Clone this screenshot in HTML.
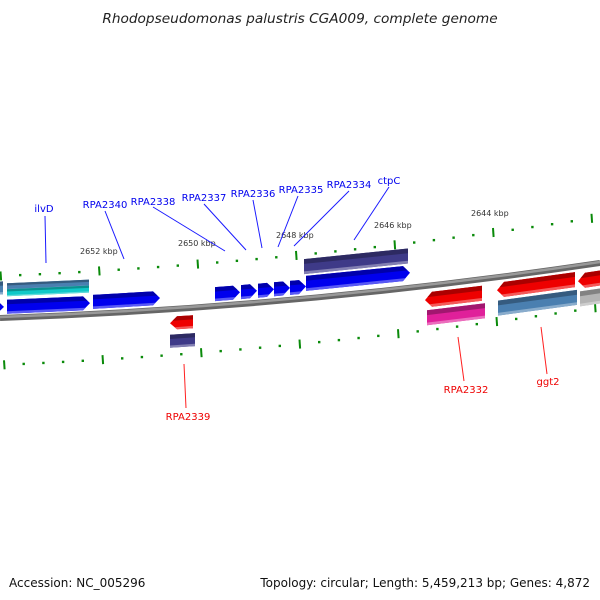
<!DOCTYPE html>
<html><head><meta charset="utf-8"><style>
html,body{margin:0;padding:0;background:#fff;}
svg{display:block;font-family:"DejaVu Sans","Liberation Sans",sans-serif;}
</style></head><body>
<svg id="s" width="600" height="600" viewBox="0 0 600 600" xmlns="http://www.w3.org/2000/svg">
<text x="300" y="23" text-anchor="middle" font-size="13.7" font-style="italic" fill="#222">Rhodopseudomonas palustris CGA009, complete genome</text>
<path d="M0,318 Q300,307.5 600,263" stroke="#666" stroke-width="6" fill="none"/>
<path d="M0,317 Q300,306.5 600,262" stroke="#999" stroke-width="2.5" fill="none"/>
<g id="g"></g>
<g font-size="8" fill="#333">
<text x="80" y="254">2652 kbp</text>
<text x="178" y="246">2650 kbp</text>
<text x="276" y="238">2648 kbp</text>
<text x="374" y="228">2646 kbp</text>
<text x="471" y="216">2644 kbp</text>
</g>
<g stroke="#1a1aff" stroke-width="1">
<line x1="45" y1="216" x2="46" y2="263"/>
<line x1="105" y1="211" x2="124" y2="259"/>
<line x1="153" y1="207" x2="225" y2="251"/>
<line x1="204" y1="204" x2="246" y2="250"/>
<line x1="253" y1="200" x2="262" y2="248"/>
<line x1="298" y1="196" x2="278" y2="247"/>
<line x1="349" y1="191" x2="294" y2="246"/>
<line x1="389" y1="187" x2="354" y2="240"/>
</g>
<g font-size="10" fill="#0000ee" text-anchor="middle">
<text x="44" y="212">ilvD</text>
<text x="105" y="208">RPA2340</text>
<text x="153" y="205">RPA2338</text>
<text x="204" y="201">RPA2337</text>
<text x="253" y="197">RPA2336</text>
<text x="301" y="193">RPA2335</text>
<text x="349" y="188">RPA2334</text>
<text x="389" y="184">ctpC</text>
</g>
<g stroke="#ff2020" stroke-width="1">
<line x1="184" y1="364" x2="186" y2="408"/>
<line x1="458" y1="337" x2="464" y2="381"/>
<line x1="541" y1="327" x2="547" y2="374"/>
</g>
<g font-size="10" fill="#ee0000" text-anchor="middle">
<text x="188" y="420">RPA2339</text>
<text x="466" y="393">RPA2332</text>
<text x="548" y="385">ggt2</text>
</g>
<text x="9" y="587" font-size="12" fill="#111">Accession: NC_005296</text>
<text x="590" y="587" font-size="12" fill="#111" text-anchor="end">Topology: circular; Length: 5,459,213 bp; Genes: 4,872</text>
</svg>
<script>
var NS="http://www.w3.org/2000/svg",g=document.getElementById("g");
function q(x,a,c,b){var t=x/600;return (1-t)*(1-t)*a+2*t*(1-t)*c+t*t*b;}
function bb(x){return q(x,318,307.5,263);}
function el(n,at){var e=document.createElementNS(NS,n);for(var k in at)e.setAttribute(k,at[k]);g.appendChild(e);return e;}
function ticks(a,c,b,start,major){var i=0;for(var x=start;x<=602;x+=19.7,i++){var y=q(x,a,c,b);var big=(i%5==major);
el("line",{x1:x,y1:y-(big?4.5:1.2),x2:x+(big?0.6:0),y2:y+(big?4.5:1.2),stroke:"#0a8a0a","stroke-width":big?2:2.4});}}
ticks(276,263.5,217,0.5,0);ticks(365,352,307,4,0);
function shade(c,f){var r=parseInt(c.substr(1,2),16),gg=parseInt(c.substr(3,2),16),b=parseInt(c.substr(5,2),16);
function m(v){return Math.max(0,Math.min(255,Math.round(f>1?v+(255-v)*(f-1):v*f)));}return "rgb("+m(r)+","+m(gg)+","+m(b)+")";}
function P(p){return p.map(function(v){return v[0].toFixed(1)+","+v[1].toFixed(1);}).join(" ");}
function gene(x1,x2,off,h,col,dir){
 var tip=dir?7:0;
 function pt(x,d){return [x,bb(x)+off+d];}
 var hh=h/2,p;
 if(dir==1)p=[pt(x1,-hh),pt(x2-tip,-hh),pt(x2,0),pt(x2-tip,hh),pt(x1,hh)];
 else if(dir==-1)p=[pt(x1+tip,-hh),pt(x2,-hh),pt(x2,hh),pt(x1+tip,hh),pt(x1,0)];
 else p=[pt(x1,-hh),pt(x2,-hh),pt(x2,hh),pt(x1,hh)];
 el("polygon",{points:P(p),fill:col});
 var y0=-hh,y1=-hh+h*0.32,tp;
 if(dir==1)tp=[pt(x1,y0),pt(x2-tip,y0),pt(x2-tip*(1-(y1-y0)/hh),y1),pt(x1,y1)];
 else if(dir==-1)tp=[pt(x1+tip,y0),pt(x2,y0),pt(x2,y1),pt(x1+tip*(1-(y1-y0)/hh),y1)];
 else tp=[pt(x1,y0),pt(x2,y0),pt(x2,y1),pt(x1,y1)];
 el("polygon",{points:P(tp),fill:shade(col,0.72)});
 var z0=hh-h*0.18,z1=hh,bp;
 if(dir==1)bp=[pt(x1,z0),pt(x2-tip*(1-(z1-z0)/hh),z0),pt(x2-tip,z1),pt(x1,z1)];
 else if(dir==-1)bp=[pt(x1+tip*(1-(z1-z0)/hh),z0),pt(x2,z0),pt(x2,z1),pt(x1+tip,z1)];
 else bp=[pt(x1,z0),pt(x2,z0),pt(x2,z1),pt(x1,z1)];
 el("polygon",{points:P(bp),fill:shade(col,1.35)});
}
var B="#0000ee";
gene(-10,3,-30,13,"#4a7fb0",0);
gene(7,89,-31,7,"#4a7fb0",0);
gene(7,89,-25,7,"#10c8c8",0);
gene(-10,4,-11,13,B,1);
gene(7,90,-11,14,B,1);
gene(93,160,-12,14,B,1);
gene(215,240,-12,14,B,1);
gene(241,257,-12,14,B,1);
gene(258,274,-12,14,B,1);
gene(274,290,-12,14,B,1);
gene(290,306,-12,14,B,1);
gene(306,410,-15,15,B,1);
gene(304,408,-32,15,"#3e3a88",0);
gene(170,193,14,13,"#ee0000",-1);
gene(170,195,32,13,"#3e3a88",0);
gene(425,482,14,15,"#ee0000",-1);
gene(427,485,32,15,"#e0209a",0);
gene(497,575,13,15,"#ee0000",-1);
gene(498,577,31,15,"#4a7fb0",0);
gene(578,612,15,15,"#ee0000",-1);
gene(580,612,33,15,"#b4b4b4",0);
</script>
</body></html>
